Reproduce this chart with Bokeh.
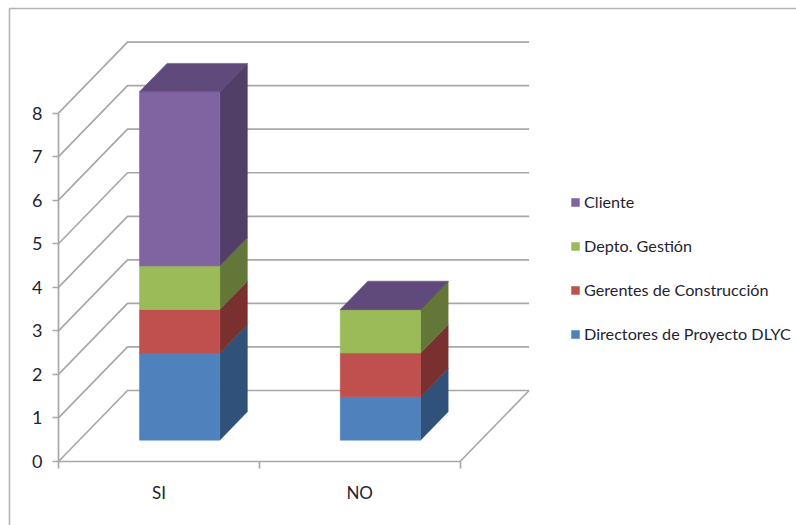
from bokeh.embed import file_html
from bokeh.models import (BoxAnnotation, ColumnDataSource, FixedTicker, Legend, LegendItem,
                          LinearAxis, Range1d)
from bokeh.plotting import figure
from bokeh.resources import INLINE

# Chart data
categories = ["SI", "NO"]
series_names = ["Directores de Proyecto DLYC", "Gerentes de Construcción", "Depto. Gestión", "Cliente"]
directores = [2, 1]
gerentes = [1, 1]
depto = [1, 1]
cliente = [4, 0]
series_values = [directores, gerentes, depto, cliente]
value_ticks = [0, 1, 2, 3, 4, 5, 6, 7, 8]

front_colors = ["#4f81bd", "#c0504d", "#9bbb59", "#8064a2"]
side_colors = ["#30527a", "#7a302e", "#637838", "#513f67"]
top_color = "#604a7b"
line_color = "#a8a8a8"
text_color = "#1f2430"
text_font = "Lato"

# Pixel scale of the oblique projection; the origin sits at (ORIGIN_X, ORIGIN_Y) on the page
PX_PER_CAT = 200.8
PX_PER_VAL = 43.55
ORIGIN_X = 58
ORIGIN_Y = 461
WIDTH, HEIGHT = 796, 525
DEPTH_X = 69 / PX_PER_CAT      # x shift of the back wall, in category units
DEPTH_Y = 71 / PX_PER_VAL      # y shift of the back wall, in value units
WALL_RIGHT = 2 + DEPTH_X
BAR_START, BAR_END = 0.3, 0.7  # bar extent, both along the category and along the depth


def project(pos, val, depth):
    return pos + depth * DEPTH_X, val + depth * DEPTH_Y


# The frame fills the page; both axes are pinned to the data origin
x_start, x_end = -ORIGIN_X / PX_PER_CAT, (WIDTH - ORIGIN_X) / PX_PER_CAT
y_start, y_end = -(HEIGHT - ORIGIN_Y) / PX_PER_VAL, ORIGIN_Y / PX_PER_VAL
p = figure(
    width=WIDTH, height=HEIGHT, output_backend="svg", toolbar_location=None,
    x_range=Range1d(x_start, x_end), y_range=Range1d(y_start, y_end),
    x_axis_type=None, y_axis_type=None,
    min_border_left=0, min_border_bottom=0, min_border_top=0, min_border_right=0,
)
p.outline_line_color = None
p.background_fill_color = "white"
p.border_fill_color = "white"

# Outer chart border, open towards the right and the bottom of the page
p.add_layout(BoxAnnotation(left=x_start + 9 / PX_PER_CAT, right=x_end + 1,
                           top=y_end - 8 / PX_PER_VAL, bottom=y_start - 1,
                           fill_alpha=0, line_alpha=1, line_color="#b4b4b4", line_width=1.6))

# Gridlines: along the side wall, then along the back wall
grid_xs, grid_ys = [], []
for v in value_ticks:
    bx, by = project(0, v, 1)
    grid_xs.append([0, bx, WALL_RIGHT])
    grid_ys.append([v, by, by])
# Right edge of the floor
fx, fy = project(2, 0, 1)
grid_xs.append([2, fx])
grid_ys.append([0, fy])
p.multi_line(grid_xs, grid_ys, line_color=line_color, line_width=1.7)

# Stacked boxes, drawn from the bottom up
legend_renderers = {}
base = [0 for _ in categories]
for name, vals, fc, sc in zip(series_names, series_values, front_colors, side_colors):
    front_x, front_y, side_x, side_y = [], [], [], []
    for i, v in enumerate(vals):
        l, r = i + BAR_START, i + BAR_END
        b, t = base[i], base[i] + v
        corners = [project(l, b, BAR_START), project(r, b, BAR_START),
                   project(r, t, BAR_START), project(l, t, BAR_START)]
        front_x.append([c[0] for c in corners])
        front_y.append([c[1] for c in corners])
        corners = [project(r, b, BAR_START), project(r, b, BAR_END),
                   project(r, t, BAR_END), project(r, t, BAR_START)]
        side_x.append([c[0] for c in corners])
        side_y.append([c[1] for c in corners])
        base[i] += v
    p.patches(side_x, side_y, fill_color=sc, line_color=sc, line_width=0.5)
    legend_renderers[name] = p.patches(
        xs="x", ys="y", source=ColumnDataSource(dict(x=front_x, y=front_y)),
        fill_color=fc, line_color=fc, line_width=0.5)

# Top caps take the colour of the uppermost series
cap_x, cap_y = [], []
for i, total in enumerate(base):
    l, r = i + BAR_START, i + BAR_END
    corners = [project(l, total, BAR_START), project(r, total, BAR_START),
               project(r, total, BAR_END), project(l, total, BAR_END)]
    cap_x.append([c[0] for c in corners])
    cap_y.append([c[1] for c in corners])
p.patches(cap_x, cap_y, fill_color=top_color, line_color=top_color, line_width=0.5)

# Value axis
y_axis = LinearAxis(ticker=FixedTicker(ticks=value_ticks), bounds=(0, 8), fixed_location=0)
y_axis.axis_line_color = line_color
y_axis.axis_line_width = 1.7
y_axis.major_tick_line_color = line_color
y_axis.major_tick_line_width = 1.7
y_axis.major_tick_out = 6
y_axis.major_tick_in = 0
y_axis.minor_tick_line_color = None
y_axis.major_label_standoff = 10
y_axis.major_label_text_font = text_font
y_axis.major_label_text_font_size = "18px"
y_axis.major_label_text_color = text_color
p.add_layout(y_axis, "left")

# Category axis: labels centred, tick marks on the category boundaries
x_axis = LinearAxis(ticker=FixedTicker(ticks=[0.5, 1.5], minor_ticks=[0, 1, 2]), bounds=(0, 2),
                    fixed_location=0)
x_axis.major_label_overrides = {0.5: categories[0], 1.5: categories[1]}
x_axis.axis_line_color = line_color
x_axis.axis_line_width = 1.7
x_axis.major_tick_line_color = None
x_axis.minor_tick_line_color = line_color
x_axis.minor_tick_line_width = 1.7
x_axis.minor_tick_out = 7
x_axis.minor_tick_in = 0
x_axis.major_label_standoff = 13
x_axis.major_label_text_font = text_font
x_axis.major_label_text_font_size = "17px"
x_axis.major_label_text_color = text_color
p.add_layout(x_axis, "below")

# Legend, uppermost series first
items = [LegendItem(label=n, renderers=[legend_renderers[n]]) for n in reversed(series_names)]
legend = Legend(items=items, location=(570, 182), orientation="vertical",
                background_fill_alpha=0, border_line_color=None,
                glyph_width=10, glyph_height=10, label_standoff=4,
                spacing=25, padding=0, margin=0,
                label_text_font=text_font, label_text_font_size="16.2px",
                label_text_color=text_color)
p.add_layout(legend)

open("out.html", "w").write(file_html(p, INLINE))
